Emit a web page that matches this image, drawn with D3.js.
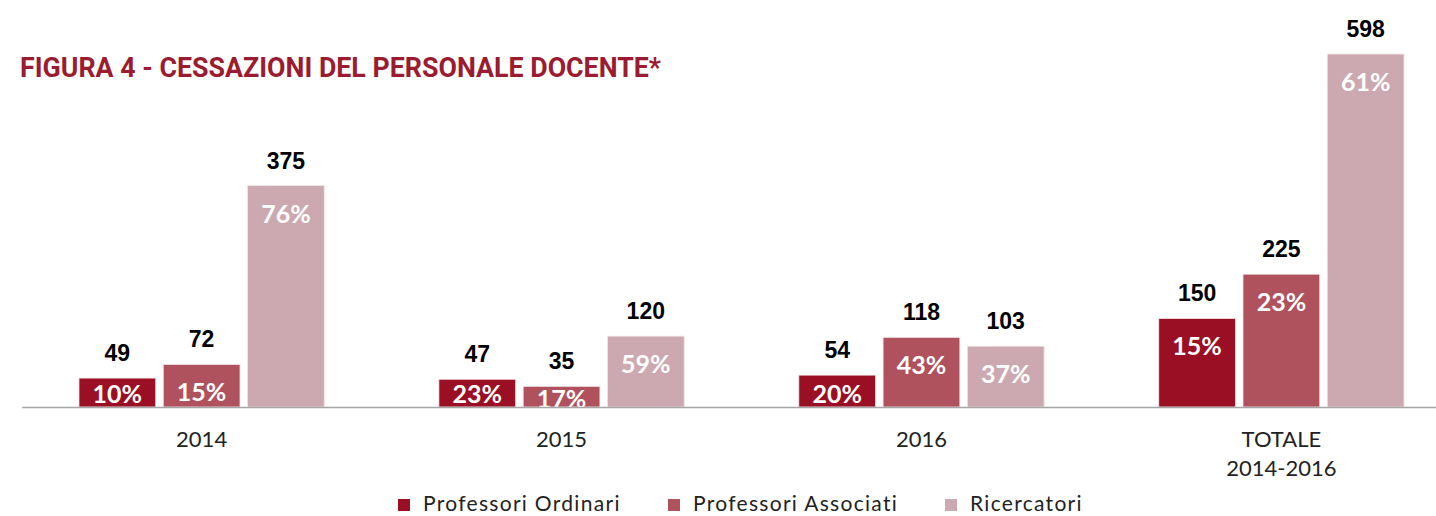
<!DOCTYPE html>
<html>
<head>
<meta charset="utf-8">
<script src="https://cdn.jsdelivr.net/npm/d3@7"></script>
<style>
  html, body { margin: 0; padding: 0; background: #fff; }
  svg { display: block; }
</style>
</head>
<body>
<svg id="chart" width="1436" height="516"></svg>
<script>
const categories = ["2014", "2015", "2016", "TOTALE\n2014-2016"];
const seriesNames = ["Professori Ordinari", "Professori Associati", "Ricercatori"];
const ordinari = [49, 47, 54, 150];
const associati = [72, 35, 118, 225];
const ricercatori = [375, 120, 103, 598];
const pctOrdinari = ["10%", "23%", "20%", "15%"];
const pctAssociati = ["15%", "17%", "43%", "23%"];
const pctRicercatori = ["76%", "59%", "37%", "61%"];
const colors = ["#9b0f24", "#b0515e", "#cca9b0"];
const title = "FIGURA 4 - CESSAZIONI DEL PERSONALE DOCENTE*";

const values = [ordinari, associati, ricercatori];
const pcts = [pctOrdinari, pctAssociati, pctRicercatori];

const data = [];
categories.forEach((c, i) => {
  seriesNames.forEach((s, j) => {
    data.push({ cat: c, series: s, value: values[j][i], pct: pcts[j][i], color: colors[j] });
  });
});

const svg = d3.select("#chart");
const baseY = 407;

const x0 = d3.scaleBand().domain(categories)
  .range([21.75, 1461.25]).paddingInner(0.3185).paddingOuter(0.159);
const x1 = d3.scaleBand().domain(seriesNames)
  .range([0, x0.bandwidth()]).paddingInner(0.0888);
const y = d3.scaleLinear().domain([0, d3.max(ricercatori)]).range([baseY, 54]);

// Title
svg.append("text")
  .attr("x", 20).attr("y", 77)
  .attr("font-family", "Roboto, 'Liberation Sans', sans-serif")
  .attr("font-weight", "bold")
  .attr("font-size", 27)
  .attr("fill", "#9b1b30")
  .attr("textLength", 641)
  .attr("lengthAdjust", "spacingAndGlyphs")
  .text(title);

svg.append("defs").append("clipPath").attr("id", "clipBase")
  .append("rect").attr("x", 0).attr("y", 0).attr("width", 1436).attr("height", baseY);

const g = svg.append("g");

// Bars
g.selectAll("rect.bar").data(data).join("rect")
  .attr("class", "bar")
  .attr("x", d => x0(d.cat) + x1(d.series))
  .attr("y", d => y(d.value))
  .attr("width", x1.bandwidth())
  .attr("height", d => baseY - y(d.value))
  .attr("fill", d => d.color)
  .attr("stroke", "#f3e6e8")
  .attr("stroke-width", 0.8);

// Axis
const axis = svg.append("g")
  .attr("transform", `translate(0,${baseY})`)
  .call(d3.axisBottom(x0).tickSize(0).tickPadding(0).tickFormat(""));
axis.select(".domain").attr("stroke", "#a6a6a6").attr("stroke-width", 1.6);
axis.selectAll(".tick").each(function(d) {
  const t = d3.select(this).select("text")
    .attr("font-family", "Lato, 'Open Sans', sans-serif")
    .attr("font-size", 22)
    .attr("fill", "#222")
    .attr("dy", null)
    .attr("y", 0);
  const lines = d.split("\n");
  lines.forEach((ln, k) => {
    t.append("tspan").attr("x", 0).attr("y", 40 + k * 29).text(ln);
  });
});

// Value labels
g.selectAll("text.val").data(data).join("text")
  .attr("class", "val")
  .attr("x", d => x0(d.cat) + x1(d.series) + x1.bandwidth() / 2)
  .attr("y", d => y(d.value) - 17)
  .attr("text-anchor", "middle")
  .attr("font-family", "'Liberation Sans', Arial, sans-serif")
  .attr("font-weight", "bold")
  .attr("font-size", 23)
  .attr("fill", "#000")
  .text(d => d.value);

// Percent labels
g.append("g").attr("clip-path", "url(#clipBase)")
  .selectAll("text.pct").data(data).join("text")
  .attr("class", "pct")
  .attr("x", d => x0(d.cat) + x1(d.series) + x1.bandwidth() / 2)
  .attr("y", d => Math.min(y(d.value) + 37, baseY - 4 + (d.value < 40 ? 5 : 0)))
  .attr("text-anchor", "middle")
  .attr("font-family", "Lato, 'Open Sans', sans-serif")
  .attr("font-weight", "bold")
  .attr("font-size", 25)
  .attr("fill", "#fff")
  .text(d => d.pct);

// Legend
const legendX = [398, 668, 945];
const legend = svg.append("g");
seriesNames.forEach((s, j) => {
  const lg = legend.append("g").attr("transform", `translate(${legendX[j]},0)`);
  lg.append("rect").attr("x", 0).attr("y", 499).attr("width", 12).attr("height", 12).attr("fill", colors[j]);
  lg.append("text").attr("x", 25).attr("y", 511)
    .attr("font-family", "Lato, 'Open Sans', sans-serif")
    .attr("font-size", 21)
    .attr("letter-spacing", 1.3)
    .attr("fill", "#222")
    .text(s);
});
</script>
</body>
</html>
